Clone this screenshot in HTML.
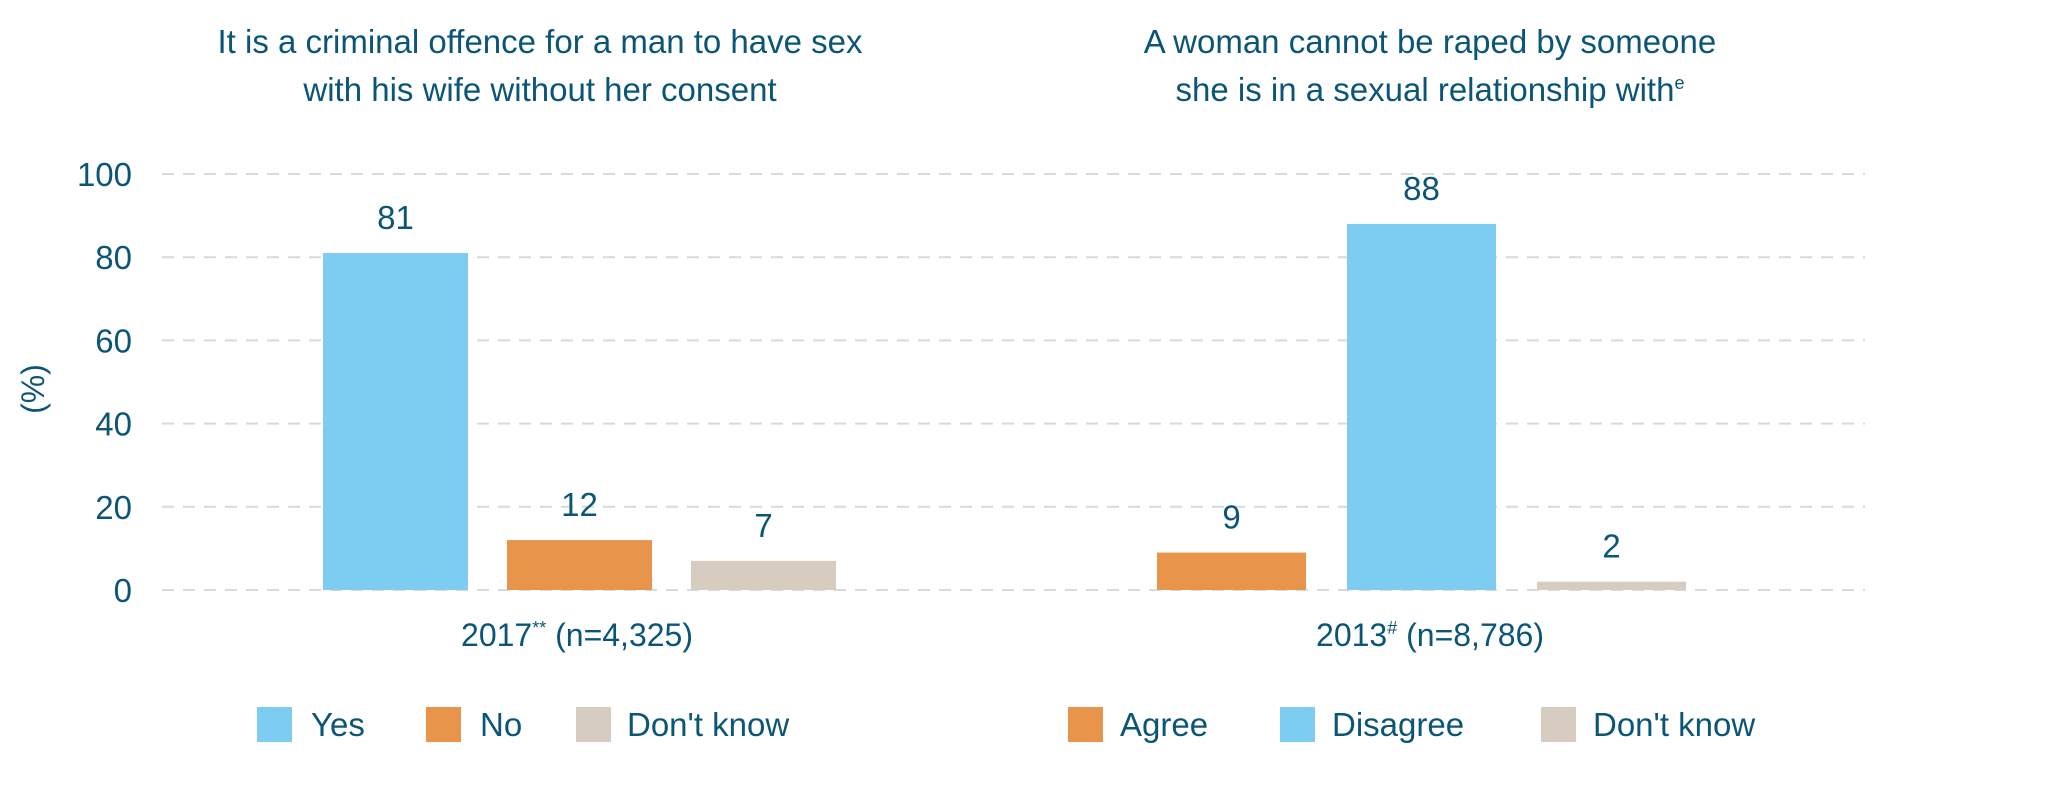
<!DOCTYPE html>
<html><head><meta charset="utf-8"><style>
body{margin:0;background:#fff;}
svg{display:block;font-family:"Liberation Sans",sans-serif;fill:#0b5577;}
</style></head><body>
<svg id="c" width="2067" height="785">
<text x="540" y="53" text-anchor="middle" font-size="33">It is a criminal offence for a man to have sex</text>
<text x="540" y="101" text-anchor="middle" font-size="33">with his wife without her consent</text>
<text x="1430" y="53" text-anchor="middle" font-size="33">A woman cannot be raped by someone</text>
<text x="1430" y="101" text-anchor="middle" font-size="33">she is in a sexual relationship with<tspan font-size="18" dy="-12">e</tspan></text>
<text transform="translate(44,389) rotate(-90)" text-anchor="middle" font-size="32">(%)</text>
<g id="grid"></g><g id="bars"></g>
<text x="577" y="646" text-anchor="middle" font-size="32">2017<tspan font-size="18" dy="-12">**</tspan><tspan dy="12"> (n=4,325)</tspan></text>
<text x="1430" y="646" text-anchor="middle" font-size="32">2013<tspan font-size="18" dy="-12">#</tspan><tspan dy="12"> (n=8,786)</tspan></text>
<g id="legend"></g>
</svg>
<script>
const ticks=[0,20,40,60,80,100];
const leftCats=["Yes","No","Don't know"];
const leftVals=[81,12,7];
const rightCats=["Agree","Disagree","Don't know"];
const rightVals=[9,88,2];
const NS="http://www.w3.org/2000/svg";
const colors={"Yes":"#7dcdf2","Disagree":"#7dcdf2","No":"#e8944a","Agree":"#e8944a","Don't know":"#d6cdc0"};
const y=v=>590-v*4.16;
function mk(t,a,p){const e=document.createElementNS(NS,t);for(const k in a)e.setAttribute(k,a[k]);p.appendChild(e);return e;}
const grid=document.getElementById('grid');
ticks.forEach(t=>{
const l=mk('line',{x1:162,x2:1865,y1:y(t),y2:y(t),stroke:'#d9d9d9','stroke-width':2,'stroke-dasharray':'12 9'},grid);


const tx=mk('text',{x:132,y:y(t)+12,'text-anchor':'end','font-size':33},grid);tx.textContent=t;


});
const bars=document.getElementById('bars');
function panel(cats,vals,x0,step,w,side){
cats.forEach((c,i)=>{const x=x0+i*step,v=vals[i];
const r=mk('rect',{x:x,y:y(v),width:w,height:590-y(v),fill:colors[c]},bars);


const t=mk('text',{x:x+w/2,y:y(v)-24,'text-anchor':'middle','font-size':33},bars);t.textContent=v;


});}
panel(leftCats,leftVals,323,184,145,'left');
panel(rightCats,rightVals,1157,190,149,'right');
const lg=document.getElementById('legend');
function legend(cats,sq,tx,side){cats.forEach((c,i)=>{
const r=mk('rect',{x:sq[i],y:707,width:35,height:35,fill:colors[c]},lg);


const t=mk('text',{x:tx[i],y:736,'font-size':33},lg);t.textContent=c;


});}
legend(leftCats,[257,426,576],[311,480,627],'left');
legend(rightCats,[1068,1280,1541],[1120,1332,1593],'right');
</script>
</body></html>
